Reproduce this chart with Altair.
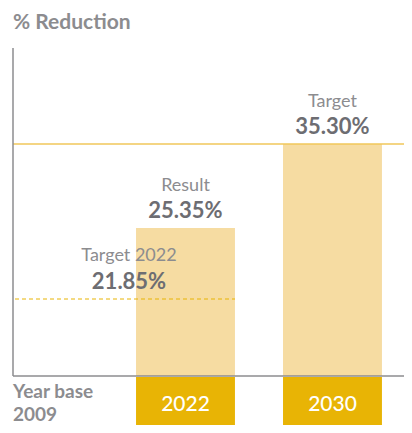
import altair as alt
import pandas as pd

years = ["2022", "2030"]
bar_values = [25.35, 35.30]
bar_captions = ["Result", "Target"]
bar_labels = ["25.35%", "35.30%"]
target_2022 = 21.85
target_2022_caption = "Target 2022"
target_2022_label = "21.85%"
target_2030 = 35.30

W, H = 391, 328
GREY = "#8c8c8f"
DARK = "#6d6d72"
LIGHT = "#f6dca2"
GOLD = "#e8b405"
FONT = "Lato"

bars = pd.DataFrame({"year": years, "value": bar_values,
                     "caption": bar_captions, "label": bar_labels})

xscale = alt.Scale(domain=years, paddingInner=0.327, paddingOuter=0.4935, align=0.848)
yscale = alt.Scale(domain=[0, target_2022, bar_values[0], target_2030],
                   range=[H, 251, 180, 96], zero=False, nice=False)

x = alt.X("year:N", scale=xscale, axis=None)
xc = alt.X("year:N", scale=xscale, axis=None, bandPosition=0.5)
y = alt.Y("value:Q", scale=yscale, axis=None)

bar = alt.Chart(bars).mark_bar(color=LIGHT).encode(x=x, y=y, y2=alt.datum(0))

boxes = alt.Chart(bars).mark_bar(color=GOLD).encode(
    x=x, y=alt.value(H + 1), y2=alt.value(H + 51))
box_text = alt.Chart(bars).mark_text(color="white", font=FONT, fontSize=21,
                                     fontWeight=500, baseline="alphabetic").encode(
    x=xc, y=alt.value(H + 35), text="year:N")

caption = alt.Chart(bars).mark_text(color=GREY, font=FONT, fontSize=18,
                                    baseline="alphabetic", dy=-37).encode(
    x=xc, y=y, text="caption:N")
label = alt.Chart(bars).mark_text(color=DARK, font=FONT, fontSize=22, fontWeight="bold",
                                  baseline="alphabetic", dy=-10).encode(
    x=xc, y=y, text="label:N")

tline = pd.DataFrame({"value": [target_2030]})
hline = alt.Chart(tline).mark_rule(color="#f0c75a", strokeWidth=1.5).encode(
    y=y, x=alt.value(0), x2=alt.value(W))

t22 = pd.DataFrame({"value": [target_2022], "caption": [target_2022_caption],
                    "label": [target_2022_label]})
dline = alt.Chart(t22).mark_rule(color=GOLD, strokeDash=[4, 3], strokeWidth=1).encode(
    y=y, x=alt.value(2), x2=alt.value(222))
t22cap = alt.Chart(t22).mark_text(color=GREY, font=FONT, fontSize=18,
                                  baseline="alphabetic", dy=-38).encode(
    y=y, x=alt.value(116), text="caption:N")
t22lab = alt.Chart(t22).mark_text(color=DARK, font=FONT, fontSize=22, fontWeight="bold",
                                  baseline="alphabetic", dy=-10).encode(
    y=y, x=alt.value(116), text="label:N")

axes = pd.DataFrame({"value": [0]})
yaxis = alt.Chart(axes).mark_rule(color=GREY, strokeWidth=1.5).encode(
    x=alt.value(0), y=alt.value(0), y2=alt.value(H))
xaxis = alt.Chart(axes).mark_rule(color=GREY, strokeWidth=1.5).encode(
    x=alt.value(0), x2=alt.value(W), y=alt.value(H))

title = alt.Chart(axes).mark_text(text="% Reduction", color=GREY, font=FONT, fontSize=21,
                                  fontWeight="bold", align="left",
                                  baseline="alphabetic").encode(
    x=alt.value(0), y=alt.value(-19))
base1 = alt.Chart(axes).mark_text(text="Year base", color=GREY, font=FONT, fontSize=19,
                                  fontWeight="bold", align="left",
                                  baseline="alphabetic").encode(
    x=alt.value(0), y=alt.value(H + 22))
base2 = alt.Chart(axes).mark_text(text="2009", color=GREY, font=FONT, fontSize=19,
                                  fontWeight="bold", align="left",
                                  baseline="alphabetic").encode(
    x=alt.value(0), y=alt.value(H + 45))

chart = alt.layer(bar, dline, hline, boxes, box_text, caption, label, t22cap, t22lab,
                  yaxis, xaxis, title, base1, base2).properties(
    width=W, height=H,
    autosize=alt.AutoSizeParams(type="none"),
    padding={"left": 5, "top": 40, "right": 0, "bottom": 49},
).configure_view(stroke=None)

chart.save("out.html", embed_options={"renderer": "svg", "actions": False})
